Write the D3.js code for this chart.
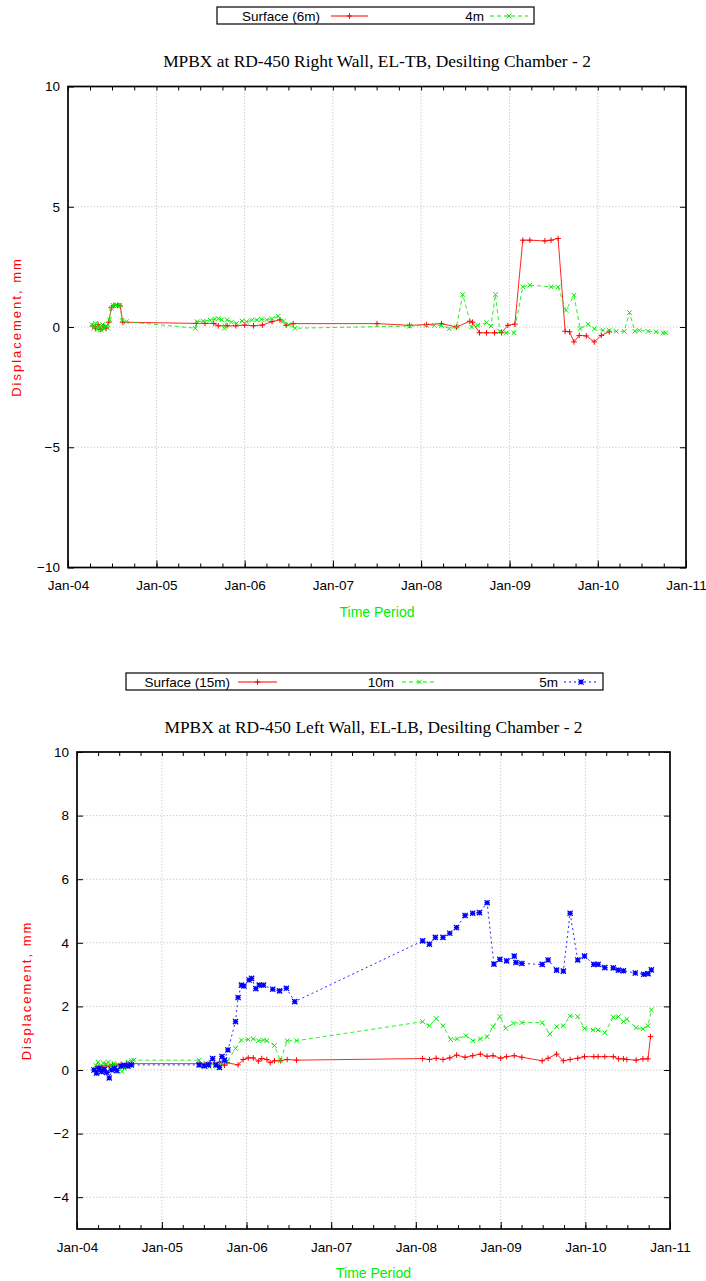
<!DOCTYPE html>
<html><head><meta charset="utf-8">
<script src="https://cdn.jsdelivr.net/npm/d3@7"></script>
<style>
html,body{margin:0;padding:0;background:#fff;}
svg{display:block;}
</style></head>
<body>
<svg id="c" width="706" height="1281"></svg>
<script>
// ---------- DATA (time as decimal years, values in mm) ----------
const xTickLabels = ["Jan-04","Jan-05","Jan-06","Jan-07","Jan-08","Jan-09","Jan-10","Jan-11"];
const xTickYears = [2004,2005,2006,2007,2008,2009,2010,2011];

// Chart 1: Right Wall
const rwTitle = "MPBX at RD-450 Right Wall, EL-TB, Desilting Chamber - 2";
const rwYTicks = [-10,-5,0,5,10];
const rwSurfaceT = [2004.28,2004.31,2004.34,2004.37,2004.40,2004.43,2004.46,2004.49,2004.52,2004.56,2004.59,2004.62,
  2005.45,2005.55,2005.65,2005.70,2005.80,2005.90,2006.00,2006.10,2006.20,2006.31,2006.40,2006.47,2006.55,
  2007.50,2007.87,2008.06,2008.23,2008.40,2008.55,2008.58,2008.66,2008.74,2008.83,2008.91,2008.98,
  2009.06,2009.15,2009.23,2009.40,2009.47,2009.55,2009.63,2009.68,2009.73,2009.79,2009.87,2009.96,2010.04,2010.13];
const rwSurfaceV = [0.05,-0.05,0.1,-0.1,0.05,-0.05,0.2,0.8,0.9,0.9,0.88,0.2,
  0.15,0.15,0.15,0.05,0.05,0.05,0.08,0.05,0.08,0.22,0.3,0.07,0.14,
  0.14,0.07,0.1,0.14,0.0,0.24,0.2,-0.24,-0.24,-0.24,-0.24,0.07,
  0.12,3.61,3.61,3.58,3.61,3.68,-0.18,-0.2,-0.62,-0.35,-0.37,-0.62,-0.35,-0.2];
const rw4mT = [2004.27,2004.29,2004.31,2004.33,2004.35,2004.37,2004.39,2004.41,2004.43,2004.45,2004.47,2004.49,2004.51,2004.54,2004.56,2004.59,2004.61,2004.66,
  2005.44,2005.46,2005.53,2005.61,2005.66,2005.70,2005.74,2005.77,2005.80,2005.85,2005.91,2005.97,2006.02,2006.08,2006.14,2006.19,2006.25,2006.31,2006.38,2006.44,2006.50,2006.57,
  2007.87,2008.06,2008.15,2008.23,2008.32,2008.40,2008.47,2008.57,2008.64,2008.74,2008.79,2008.84,2008.89,2008.96,2009.05,2009.15,2009.23,2009.47,2009.55,2009.64,
  2009.73,2009.80,2009.89,2009.96,2010.06,2010.13,2010.21,2010.30,2010.36,2010.42,2010.47,2010.57,2010.66,2010.74,2010.77];
const rw4mV = [0.1,-0.05,0.15,-0.1,0.05,-0.12,0.1,-0.08,0.05,-0.05,0.3,0.78,0.9,0.92,0.9,0.9,0.28,0.22,
  -0.05,0.22,0.25,0.28,0.33,0.35,0.3,-0.05,0.3,0.2,0.15,0.25,0.22,0.28,0.3,0.32,0.3,0.35,0.45,0.25,0.1,-0.05,
  0.04,0.07,0.07,0.07,-0.07,0.0,1.35,0.0,0.07,0.18,0.04,1.35,-0.18,-0.24,-0.24,1.67,1.74,1.67,1.67,0.69,
  1.32,-0.07,0.11,-0.07,-0.14,-0.14,-0.18,-0.18,0.6,-0.18,-0.14,-0.18,-0.2,-0.24,-0.24];

// Chart 2: Left Wall
const lwTitle = "MPBX at RD-450 Left Wall, EL-LB, Desilting Chamber - 2";
const lwYTicks = [-4,-2,0,2,4,6,8,10];
const lwSurfaceT = [2004.22,2004.26,2004.30,2004.34,2004.38,2004.42,2004.46,2004.52,2004.58,2004.64,
  2005.44,2005.50,2005.56,2005.62,2005.68,2005.74,2005.77,2005.90,2005.96,
  2006.02,2006.08,2006.14,2006.18,2006.24,2006.28,2006.33,2006.40,2006.48,2006.59,
  2008.08,2008.16,2008.24,2008.32,2008.40,2008.48,2008.58,2008.67,2008.76,2008.84,2008.91,
  2009.00,2009.07,2009.16,2009.25,2009.49,2009.56,2009.66,2009.74,2009.82,2009.91,2009.99,
  2010.10,2010.15,2010.23,2010.33,2010.39,2010.45,2010.49,2010.60,2010.68,2010.74,2010.77];
const lwSurfaceV = [0.05,0.12,0.08,0.15,0.1,0.18,0.15,0.18,0.2,0.2,
  0.2,0.18,0.22,0.2,0.25,0.15,0.23,0.16,0.33,
  0.38,0.38,0.28,0.36,0.33,0.23,0.29,0.29,0.33,0.31,
  0.36,0.33,0.37,0.33,0.38,0.47,0.4,0.45,0.5,0.43,0.45,
  0.37,0.42,0.45,0.4,0.29,0.37,0.5,0.29,0.33,0.37,0.42,
  0.42,0.42,0.42,0.42,0.35,0.35,0.33,0.31,0.35,0.35,1.05];
const lw10mT = [2004.22,2004.25,2004.28,2004.31,2004.34,2004.37,2004.40,2004.43,2004.46,2004.50,2004.53,2004.56,2004.60,2004.64,2004.67,
  2005.44,2005.48,2005.52,2005.56,2005.60,2005.65,2005.70,2005.77,2005.87,2005.94,
  2006.02,2006.08,2006.14,2006.20,2006.24,2006.33,2006.40,2006.48,2006.59,
  2008.08,2008.16,2008.24,2008.32,2008.41,2008.49,2008.59,2008.67,2008.76,2008.84,2008.91,2008.99,
  2009.06,2009.15,2009.25,2009.49,2009.58,2009.66,2009.74,2009.82,2009.91,2009.99,
  2010.09,2010.15,2010.23,2010.33,2010.39,2010.45,2010.49,2010.60,2010.68,2010.74,2010.78];
const lw10mV = [0.15,0.25,0.1,0.22,0.18,0.25,0.12,0.2,0.15,0.1,-0.05,0.05,0.25,0.3,0.31,
  0.31,0.15,0.22,0.1,0.2,0.12,0.18,0.26,0.68,0.94,
  0.96,0.98,0.92,0.94,0.92,0.77,0.29,0.92,0.92,
  1.52,1.39,1.62,1.39,0.96,0.98,1.08,0.92,0.98,1.05,1.36,1.68,
  1.31,1.47,1.49,1.49,1.13,1.36,1.39,1.7,1.68,1.31,
  1.26,1.26,1.17,1.66,1.68,1.52,1.6,1.33,1.29,1.39,1.89];
const lw5mT = [2004.20,2004.23,2004.26,2004.29,2004.32,2004.35,2004.38,2004.41,2004.44,2004.47,2004.52,2004.56,2004.60,2004.64,
  2005.44,2005.50,2005.55,2005.60,2005.64,2005.68,2005.71,2005.74,2005.78,2005.87,2005.90,2005.94,2005.97,
  2006.03,2006.06,2006.11,2006.15,2006.20,2006.31,2006.39,2006.47,2006.57,
  2008.08,2008.16,2008.23,2008.32,2008.40,2008.48,2008.58,2008.67,2008.75,2008.84,2008.92,2008.99,
  2009.07,2009.16,2009.18,2009.25,2009.49,2009.56,2009.66,2009.74,2009.82,2009.91,2009.99,
  2010.10,2010.15,2010.23,2010.33,2010.39,2010.45,2010.59,2010.69,2010.74,2010.78];
const lw5mV = [0.0,-0.1,0.05,-0.05,0.02,-0.08,-0.25,0.0,0.05,-0.02,0.12,0.15,0.12,0.16,
  0.16,0.13,0.16,0.36,0.16,0.08,0.42,0.31,0.63,1.52,2.28,2.67,2.64,
  2.83,2.88,2.56,2.67,2.67,2.54,2.49,2.57,2.15,
  4.06,3.96,4.17,4.17,4.3,4.48,4.86,4.93,4.95,5.26,3.33,3.48,
  3.43,3.58,3.38,3.35,3.32,3.46,3.14,3.11,4.93,3.46,3.58,
  3.32,3.32,3.22,3.21,3.14,3.12,3.05,3.01,3.03,3.15];

// ---------- helpers ----------
function yd(y){
  const yr = Math.floor(y);
  const a = new Date(yr,0,1), b = new Date(yr+1,0,1);
  return new Date(+a + (y-yr)*(b-a));
}
function pairs(T,V){ return d3.zip(T,V).map(([t,v])=>({date:yd(t), value:v})); }

const svg = d3.select("#c");
svg.append("rect").attr("width",706).attr("height",1281).attr("fill","#fff");

const SANS = "'Liberation Sans', Arial, sans-serif";
const SERIF = "'Liberation Serif', 'Times New Roman', serif";

function marker(g, type, color, x, y){
  const s = type==="plus" ? 2.8 : (type==="star" ? 2.6 : 2.3);
  const p = d3.path();
  if(type==="plus" || type==="star"){ p.moveTo(x-s,y); p.lineTo(x+s,y); p.moveTo(x,y-s); p.lineTo(x,y+s); }
  if(type==="cross" || type==="star"){ p.moveTo(x-s,y-s); p.lineTo(x+s,y+s); p.moveTo(x-s,y+s); p.lineTo(x+s,y-s); }
  g.append("path").attr("d",p.toString()).attr("stroke",color)
    .attr("stroke-width", type==="star" ? 1.3 : 1).attr("fill","none");
}

function drawChart(cfg){
  const g = svg.append("g");
  const x = d3.scaleTime().domain([yd(2004), yd(2011)]).range([cfg.left, cfg.right]);
  const y = d3.scaleLinear().domain(cfg.yDomain).range([cfg.bottom, cfg.top]);

  // grid
  const gridX = xTickYears.slice(1,-1);
  g.selectAll(null).data(gridX).join("line")
    .attr("x1",d=>x(yd(d))).attr("x2",d=>x(yd(d)))
    .attr("y1",cfg.top).attr("y2",cfg.bottom)
    .attr("stroke","#b8b8b8").attr("stroke-width",0.8).attr("stroke-dasharray","1.2,2");
  g.selectAll(null).data(cfg.yTicks.filter(v=>v!==cfg.yDomain[0] && v!==cfg.yDomain[1])).join("line")
    .attr("x1",cfg.left).attr("x2",cfg.right)
    .attr("y1",d=>y(d)).attr("y2",d=>y(d))
    .attr("stroke","#b8b8b8").attr("stroke-width",0.8).attr("stroke-dasharray","1.2,2");

  // axes (ticks inward) using d3 axis generators
  const quarters = d3.timeMonth.every(3).range(yd(2004), yd(2011));
  const axB = d3.axisBottom(x).tickValues(quarters).tickSize(-4).tickFormat("");
  const axT = d3.axisTop(x).tickValues(quarters).tickSize(-4).tickFormat("");
  const axBm = d3.axisBottom(x).tickValues(xTickYears.map(yd)).tickSize(-7)
      .tickFormat((d,i)=>xTickLabels[i]).tickPadding(cfg.xLabelPad);
  const axL = d3.axisLeft(y).tickValues(cfg.yTicks).tickSize(-6).tickPadding(8).tickFormat(d3.format("d"));
  const axR = d3.axisRight(y).tickValues(cfg.yTicks).tickSize(-6).tickFormat("");
  function styleAxis(sel){
    sel.select(".domain").remove();
    sel.selectAll("line").attr("stroke","#000").attr("stroke-width",1);
    sel.selectAll("text").attr("font-family",SANS).attr("font-size",13.5).attr("fill","#000");
  }
  g.append("g").attr("transform",`translate(0,${cfg.bottom})`).call(axB).call(styleAxis);
  g.append("g").attr("transform",`translate(0,${cfg.top})`).call(axT).call(styleAxis);
  g.append("g").attr("transform",`translate(0,${cfg.bottom})`).call(axBm).call(styleAxis);
  g.append("g").attr("transform",`translate(${cfg.left},0)`).call(axL).call(styleAxis);
  g.append("g").attr("transform",`translate(${cfg.right},0)`).call(axR).call(styleAxis);

  // series
  const line = d3.line().x(d=>x(d.date)).y(d=>y(d.value));
  cfg.series.forEach(s=>{
    const data = pairs(s.T, s.V);
    g.append("path").datum(data).attr("d",line)
      .attr("fill","none").attr("stroke",s.color).attr("stroke-width",1)
      .attr("stroke-dasharray",s.dash||null).attr("stroke-opacity",0.85);
    const mg = g.append("g");
    data.forEach(d=>marker(mg, s.marker, s.color, x(d.date), y(d.value)));
  });

  // frame
  g.append("rect").attr("x",cfg.left).attr("y",cfg.top)
    .attr("width",cfg.right-cfg.left).attr("height",cfg.bottom-cfg.top)
    .attr("fill","none").attr("stroke","#000").attr("stroke-width",1.7);

  // title
  g.append("text").attr("x",(cfg.left+cfg.right)/2).attr("y",cfg.titleY)
    .attr("text-anchor","middle").attr("font-family",SERIF).attr("font-size",17.4)
    .attr("fill","#000").text(cfg.title);

  // axis titles
  g.append("text").attr("x",(cfg.left+cfg.right)/2).attr("y",cfg.xTitleY)
    .attr("text-anchor","middle").attr("font-family",SANS).attr("font-size",14)
    .attr("fill","#00ee00").text("Time Period");
  g.append("text")
    .attr("transform",`translate(${cfg.yTitleX},${(cfg.top+cfg.bottom)/2}) rotate(-90)`)
    .attr("text-anchor","middle").attr("font-family",SANS).attr("font-size",13)
    .attr("letter-spacing",2).attr("fill","#ff0000").text("Displacement, mm");

  // legend
  const L = cfg.legend;
  const lg = svg.append("g").attr("class","legend");
  lg.append("rect").attr("x",L.x).attr("y",L.y).attr("width",L.w).attr("height",L.h)
    .attr("fill","#fff").attr("stroke","#000").attr("stroke-width",1.2);
  const ly = L.y + Math.round(L.h/2);
  cfg.series.forEach((s,i)=>{
    const e = L.entries[i];
    lg.append("text").attr("x",e.textEnd).attr("y",ly+4.5).attr("text-anchor","end")
      .attr("font-family",SANS).attr("font-size",13.5).attr("fill","#000").text(s.name);
    lg.append("path").attr("d",`M${e.l1},${ly}L${e.l2},${ly}`)
      .attr("fill","none").attr("stroke",s.color).attr("stroke-width",1.1)
      .attr("stroke-dasharray",s.dash||null);
    marker(lg, s.marker, s.color, (e.l1+e.l2)/2, ly);
  });
}

drawChart({
  left:68, right:686, top:86.5, bottom:567.5, yDomain:[-10,10], yTicks:rwYTicks,
  xLabelPad:13, titleY:67, xTitleY:617, yTitleX:21, title:rwTitle,
  legend:{x:217,y:7,w:317,h:17, entries:[{textEnd:320,l1:331,l2:368},{textEnd:484,l1:490,l2:528}]},
  series:[
    {name:"Surface (6m)", T:rwSurfaceT, V:rwSurfaceV, color:"#ff0000", marker:"plus"},
    {name:"4m", T:rw4mT, V:rw4mV, color:"#00ee00", marker:"cross", dash:"4,3"}
  ]
});

drawChart({
  left:77, right:670, top:752, bottom:1229, yDomain:[-5,10], yTicks:lwYTicks,
  xLabelPad:13, titleY:733, xTitleY:1278, yTitleX:31, title:lwTitle,
  legend:{x:126,y:673,w:477,h:17, entries:[{textEnd:230,l1:238,l2:277},{textEnd:394,l1:402,l2:437},{textEnd:558,l1:564,l2:598}]},
  series:[
    {name:"Surface (15m)", T:lwSurfaceT, V:lwSurfaceV, color:"#ff0000", marker:"plus"},
    {name:"10m", T:lw10mT, V:lw10mV, color:"#00ee00", marker:"cross", dash:"4,3"},
    {name:"5m", T:lw5mT, V:lw5mV, color:"#0000ff", marker:"star", dash:"2,3"}
  ]
});
</script>
</body></html>
